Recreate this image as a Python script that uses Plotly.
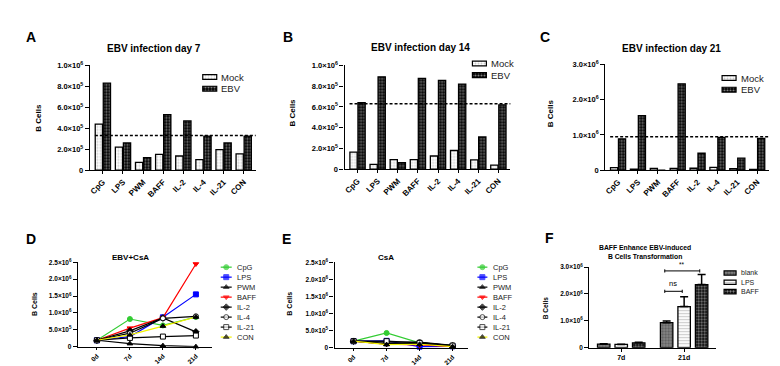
import plotly.graph_objects as go

# ---------------- data ----------------
categories = ["CpG", "LPS", "PWM", "BAFF", "IL-2", "IL-4", "IL-21", "CON"]

day7_mock = [0.44e6, 0.22e6, 0.074e6, 0.15e6, 0.135e6, 0.10e6, 0.196e6, 0.156e6]
day7_ebv = [0.83e6, 0.26e6, 0.12e6, 0.53e6, 0.47e6, 0.325e6, 0.26e6, 0.325e6]
day7_ref = 0.33e6

day14_mock = [0.164e6, 0.046e6, 0.093e6, 0.093e6, 0.127e6, 0.18e6, 0.09e6, 0.04e6]
day14_ebv = [0.64e6, 0.89e6, 0.062e6, 0.875e6, 0.855e6, 0.82e6, 0.31e6, 0.62e6]
day14_ref = 0.63e6

day21_mock = [0.07e6, 0.03e6, 0.05e6, 0.05e6, 0.055e6, 0.08e6, 0.045e6, 0.02e6]
day21_ebv = [0.89e6, 1.55e6, 0.0, 2.45e6, 0.48e6, 0.93e6, 0.34e6, 0.90e6]
day21_ref = 0.95e6

timepoints = ["0d", "7d", "14d", "21d"]
series_names = ["CpG", "LPS", "PWM", "BAFF", "IL-2", "IL-4", "IL-21", "CON"]
ebv_csa = [
    [0.19e6, 0.82e6, 0.63e6, 0.88e6],   # CpG
    [0.19e6, 0.30e6, 0.87e6, 1.55e6],   # LPS
    [0.19e6, 0.09e6, 0.03e6, 0.0],      # PWM
    [0.19e6, 0.55e6, 0.86e6, 2.45e6],   # BAFF
    [0.19e6, 0.47e6, 0.85e6, 0.44e6],   # IL-2
    [0.19e6, 0.40e6, 0.84e6, 0.90e6],   # IL-4
    [0.19e6, 0.26e6, 0.30e6, 0.33e6],   # IL-21
    [0.19e6, 0.35e6, 0.61e6, 0.88e6],   # CON
]
csa = [
    [0.19e6, 0.43e6, 0.14e6, 0.05e6],
    [0.19e6, 0.20e6, 0.03e6, 0.04e6],
    [0.19e6, 0.10e6, 0.15e6, 0.06e6],
    [0.19e6, 0.10e6, 0.08e6, 0.03e6],
    [0.19e6, 0.12e6, 0.12e6, 0.05e6],
    [0.19e6, 0.16e6, 0.16e6, 0.07e6],
    [0.19e6, 0.19e6, 0.14e6, 0.06e6],
    [0.19e6, 0.09e6, 0.10e6, 0.03e6],
]

f_groups = ["7d", "21d"]
f_names = ["blank", "LPS", "BAFF"]
f_values = [[0.13e6, 0.93e6], [0.12e6, 1.53e6], [0.18e6, 2.35e6]]
f_errors = [[0.02e6, 0.06e6], [0.01e6, 0.37e6], [0.02e6, 0.38e6]]

ticks_1e6 = [0, 2e5, 4e5, 6e5, 8e5, 1e6]
labels_1e6 = ["0", "2.0×10<sup>5</sup>", "4.0×10<sup>5</sup>", "6.0×10<sup>5</sup>",
              "8.0×10<sup>5</sup>", "1.0×10<sup>6</sup>"]
ticks_3e6 = [0, 1e6, 2e6, 3e6]
labels_3e6 = ["0", "1.0×10<sup>6</sup>", "2.0×10<sup>6</sup>", "3.0×10<sup>6</sup>"]
ticks_25e6 = [0, 5e5, 1e6, 1.5e6, 2e6, 2.5e6]
labels_25e6 = ["0", "5.0×10<sup>5</sup>", "1.0×10<sup>6</sup>", "1.5×10<sup>6</sup>",
               "2.0×10<sup>6</sup>", "2.5×10<sup>6</sup>"]

# ---------------- styles ----------------
FONT = "Liberation Sans"
W, H = 780, 366
line_colors = ["#33cc33", "#0000ff", "black", "#ff0000", "black", "black", "black", "#f2f200"]
marker_symbols = ["circle", "square", "triangle-up", "triangle-down", "diamond",
                  "circle", "square", "triangle-up"]
marker_fill = ["#33cc33", "#0000ff", "black", "#ff0000", "black", "white", "white", "black"]
marker_edge = ["#33cc33", "#0000ff", "black", "#ff0000", "black", "black", "black", "black"]

mock_pattern = dict(shape=".", fgcolor="#9a9a9a", bgcolor="white", size=3, solidity=0.35)
ebv_pattern = dict(shape=".", fgcolor="white", bgcolor="black", size=3, solidity=0.4)
f_patterns = [
    dict(shape=".", fgcolor="#2a2a2a", bgcolor="#8a8a8a", size=3, solidity=0.45),
    dict(shape="-", fgcolor="#9a9a9a", bgcolor="white", size=3, solidity=0.4),
    dict(shape=".", fgcolor="white", bgcolor="black", size=3, solidity=0.45),
]


def px_x(p):
    return p / W


def px_y(p):
    return 1 - p / H


fig = go.Figure()

# ---------------- panels A-C (bars) ----------------
bar_panels = [
    ("x", "y", day7_mock, day7_ebv, day7_ref),
    ("x2", "y2", day14_mock, day14_ebv, day14_ref),
    ("x3", "y3", day21_mock, day21_ebv, day21_ref),
]
BW = 0.36
for xa, ya, mock, ebv, ref in bar_panels:
    fig.add_trace(go.Bar(x=categories, y=mock, xaxis=xa, yaxis=ya, width=BW, offset=-0.38,
                         marker=dict(color="white", pattern=mock_pattern,
                                     line=dict(color="black", width=1.3)),
                         showlegend=False, name="Mock"))
    fig.add_trace(go.Bar(x=categories, y=ebv, xaxis=xa, yaxis=ya, width=BW, offset=0.02,
                         marker=dict(color="black", pattern=ebv_pattern,
                                     line=dict(color="black", width=1.3)),
                         showlegend=False, name="EBV"))
    fig.add_shape(type="line", xref=f"{xa} domain", yref=ya, x0=0.03, x1=1.0, y0=ref, y1=ref,
                  line=dict(color="black", width=1.5, dash="3px,2px"))

# ---------------- panels D, E (lines) ----------------
for xa, ya, data in [("x4", "y4", ebv_csa), ("x5", "y5", csa)]:
    for i, name in enumerate(series_names):
        fig.add_trace(go.Scatter(
            x=timepoints, y=data[i], xaxis=xa, yaxis=ya, mode="lines+markers", name=name,
            line=dict(color=line_colors[i], width=1.2),
            marker=dict(symbol=marker_symbols[i], size=5, color=marker_fill[i],
                        line=dict(color=marker_edge[i], width=1)),
            showlegend=False, cliponaxis=False))

# ---------------- panel F (bars with error bars) ----------------
F_W = 0.198
F_STEP = 0.278
for j, name in enumerate(f_names):
    off = (j - 1) * F_STEP - F_W / 2
    fig.add_trace(go.Bar(
        x=f_groups, y=f_values[j], xaxis="x6", yaxis="y6", width=F_W, offset=off, name=name,
        marker=dict(color="white", pattern=f_patterns[j], line=dict(color="black", width=1.3)),
        error_y=dict(type="data", array=f_errors[j], arrayminus=[0] * len(f_groups),
                     symmetric=False, color="black", thickness=1.5, width=4),
        showlegend=False))


def bar_center(group_idx, series_idx):
    return group_idx + (series_idx - 1) * F_STEP


# significance brackets
brackets = [(0, 2, 2.86e6, "**"), (0, 1, 2.10e6, "ns")]
for a, b, yv, label in brackets:
    xa0, xa1 = bar_center(1, a) - 0.03, bar_center(1, b) - 0.03
    fig.add_shape(type="line", xref="x6", yref="y6", x0=xa0, x1=xa1, y0=yv, y1=yv,
                  line=dict(color="black", width=1))
    for xe in (xa0, xa1):
        fig.add_shape(type="line", xref="x6", yref="y6", x0=xe, x1=xe,
                      y0=yv - 0.06e6, y1=yv + 0.06e6, line=dict(color="black", width=1))
    fig.add_annotation(xref="x6", yref="y6", x=(xa0 + xa1) / 2, y=yv + 0.05e6, text=label,
                       showarrow=False, yanchor="bottom",
                       font=dict(family=FONT, size=7.5 if label == "ns" else 6.5, color="black"))


# ---------------- custom legends (overlay axis in pixel units) ----------------
def bar_legend(x0, y0, step, names, patterns, colors, gw, gh, fs):
    for i, name in enumerate(names):
        yc = y0 + i * step
        fig.add_trace(go.Bar(orientation="h", x=[gw], base=[x0], y=[yc], width=[gh],
                             xaxis="x7", yaxis="y7", showlegend=False,
                             marker=dict(color=colors[i], pattern=patterns[i],
                                         line=dict(color="black", width=1.2))))
        fig.add_annotation(xref="x7", yref="y7", x=x0 + gw + 2.5, y=yc, text=name,
                           showarrow=False, xanchor="left", yanchor="middle",
                           font=dict(family=FONT, size=fs, color="#222"))


def line_legend(x0, y0, step, gw, fs):
    for i, name in enumerate(series_names):
        yc = y0 + i * step
        fig.add_trace(go.Scatter(x=[x0, x0 + gw / 2, x0 + gw], y=[yc, yc, yc], xaxis="x7", yaxis="y7",
                                 mode="lines+markers", showlegend=False, cliponaxis=False,
                                 line=dict(color=line_colors[i], width=1.2),
                                 marker=dict(symbol=marker_symbols[i], size=[0, 5, 0],
                                             color=marker_fill[i],
                                             line=dict(color=marker_edge[i], width=1))))
        fig.add_annotation(xref="x7", yref="y7", x=x0 + gw + 3.5, y=yc, text=name,
                           showarrow=False, xanchor="left", yanchor="middle",
                           font=dict(family=FONT, size=fs, color="#222"))


mock_ebv = ["Mock", "EBV"]
bar_legend(194, 65, 12, mock_ebv, [mock_pattern, ebv_pattern], ["white", "black"], 14, 5, 9.5)
bar_legend(464, 51, 12, mock_ebv, [mock_pattern, ebv_pattern], ["white", "black"], 14, 5, 9.5)
bar_legend(714, 66, 12, mock_ebv, [mock_pattern, ebv_pattern], ["white", "black"], 14, 5, 9.5)
bar_legend(716, 267, 9.6, f_names, f_patterns, ["white"] * 3, 12, 4.5, 7)
line_legend(212, 261, 10.3, 11, 7.5)
line_legend(469, 261, 10.3, 10, 7.5)


# ---------------- axes ----------------
def yaxis(dom_px, rng, tv, tt, anchor, fs=7.5):
    return dict(domain=[px_y(dom_px[0]), px_y(dom_px[1])], range=rng, tickvals=tv, ticktext=tt,
                anchor=anchor, showline=True, linecolor="black", linewidth=1.3,
                ticks="outside", ticklen=4, tickwidth=1.2, tickcolor="black",
                showgrid=False, zeroline=False, fixedrange=True,
                tickfont=dict(family=FONT, size=fs, weight="bold", color="black"))


def xaxis(dom_px, rng, anchor, angle, fs, tl=3):
    return dict(domain=[px_x(dom_px[0]), px_x(dom_px[1])], range=rng, type="category",
                anchor=anchor, showline=True, linecolor="black", linewidth=1.3,
                ticks="outside", ticklen=tl, tickwidth=1.2, tickcolor="black",
                showgrid=False, zeroline=False, fixedrange=True, tickangle=angle,
                tickfont=dict(family=FONT, size=fs, weight="bold", color="black"))


cat_rng = [-0.645, 7.595]
time_rng = [-0.576, 3.48]
layout_axes = dict(
    xaxis=xaxis((81, 247), cat_rng, "y", -45, 8),
    yaxis=yaxis((161, 53), [0, 1e6], ticks_1e6, labels_1e6, "x"),
    xaxis2=xaxis((336, 502), cat_rng, "y2", -45, 8),
    yaxis2=yaxis((160, 53), [0, 1e6], ticks_1e6, labels_1e6, "x2"),
    xaxis3=xaxis((597, 761), cat_rng, "y3", -45, 8),
    yaxis3=yaxis((161, 52), [0, 3e6], ticks_3e6, labels_3e6, "x3"),
    xaxis4=xaxis((69, 203), time_rng, "y4", -45, 6.5, 2),
    yaxis4=yaxis((343, 256), [0, 2.5e6], ticks_25e6, labels_25e6, "x4", 6.5),
    xaxis5=xaxis((326, 460), time_rng, "y5", -45, 6.5, 2),
    yaxis5=yaxis((344, 256), [0, 2.5e6], ticks_25e6, labels_25e6, "x5", 6.5),
    xaxis6=xaxis((581, 708), [-0.508, 1.508], "y6", 0, 7),
    yaxis6=yaxis((344, 261), [0, 3e6], ticks_3e6, labels_3e6, "x6", 6.5),
    xaxis7=dict(domain=[0, 1], range=[0, W], visible=False, anchor="y7", fixedrange=True),
    yaxis7=dict(domain=[0, 1], range=[H, 0], visible=False, anchor="x7", fixedrange=True),
)

# ---------------- titles & labels ----------------
texts = [
    ("A", 22, 24, 14, 0), ("B", 279, 24, 14, 0), ("C", 537, 24, 14, 0),
    ("D", 22, 232, 14, 0), ("E", 278, 232, 14, 0), ("F", 541, 231, 14, 0),
    ("EBV infection day 7", 145, 36, 10, 0),
    ("EBV infection day 14", 412, 35, 10, 0),
    ("EBV infection day 21", 663, 36, 10, 0),
    ("EBV+CsA", 122, 251, 8, 0),
    ("CsA", 377, 251, 8, 0),
    ("BAFF Enhance EBV-induced<br>B Cells Transformation", 637, 245, 6.8, 0),
    ("B Cells", 30, 107, 8, -90), ("B Cells", 284, 102, 8, -90),
    ("B Cells", 543, 102, 8, -90), ("B Cells", 25, 299, 7, -90),
    ("B Cells", 280, 299, 7, -90), ("B Cells", 538, 303, 6.5, -90),
]
for t, x, y, s, ang in texts:
    fig.add_annotation(xref="paper", yref="paper", x=px_x(x), y=px_y(y), text=t, showarrow=False,
                       xanchor="center", yanchor="middle", textangle=ang,
                       font=dict(family=FONT, size=s, color="black", weight="bold"))

fig.update_layout(
    width=W, height=H, margin=dict(l=0, r=0, t=0, b=0),
    paper_bgcolor="white", plot_bgcolor="rgba(0,0,0,0)",
    barmode="overlay", showlegend=False,
    font=dict(family=FONT, color="black"),
    **layout_axes,
)

fig.write_html("out.html")
